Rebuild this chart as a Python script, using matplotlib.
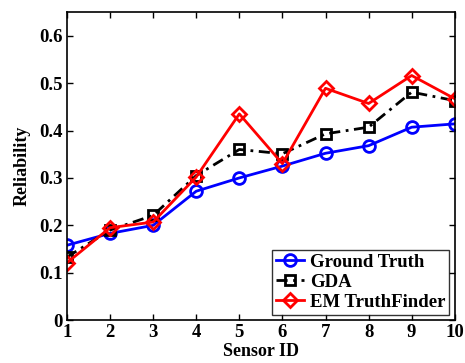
import matplotlib
matplotlib.use("Agg")
import matplotlib.pyplot as plt

sensor_ids = [1, 2, 3, 4, 5, 6, 7, 8, 9, 10]
ground_truth = [0.158, 0.183, 0.200, 0.272, 0.300, 0.325, 0.352, 0.368, 0.407, 0.414]
gda = [0.133, 0.190, 0.221, 0.305, 0.360, 0.351, 0.393, 0.407, 0.481, 0.463]
em_truthfinder = [0.121, 0.195, 0.207, 0.302, 0.435, 0.330, 0.489, 0.457, 0.516, 0.467]
y_ticks = [0, 0.1, 0.2, 0.3, 0.4, 0.5, 0.6]
y_tick_labels = ["0", "0.1", "0.2", "0.3", "0.4", "0.5", "0.6"]

plt.rcParams['font.family'] = ['Liberation Serif', 'DejaVu Serif']
plt.rcParams['font.weight'] = 'bold'

fig = plt.figure(figsize=(4.65, 3.63), dpi=100)
ax = fig.add_axes([0.144, 0.118, 0.834, 0.849])

ax.plot(sensor_ids, ground_truth, color='#0000ff', lw=2, marker='o', ms=8.5,
        mfc='none', mew=2, label='Ground Truth')
ax.plot(sensor_ids, gda, color='black', lw=2, dashes=(4, 2, 1, 2), marker='s', ms=7,
        mfc='none', mew=2, label='GDA')
ax.plot(sensor_ids, em_truthfinder, color='#ff0000', lw=2, marker='D', ms=7.5,
        mfc='none', mew=2, label='EM TruthFinder')

ax.set_xlim(1, 10)
ax.set_ylim(0, 0.65)
ax.set_xticks(sensor_ids)
ax.set_xticklabels([str(s) for s in sensor_ids])
ax.set_yticks(y_ticks)
ax.set_yticklabels(y_tick_labels)
ax.tick_params(direction='in', top=True, right=True, labelsize=13.5, width=1, length=4, pad=3)
for s in ax.spines.values():
    s.set_linewidth(1.2)
ax.set_xlabel('Sensor ID', fontsize=13, fontweight='bold', labelpad=1)
ax.set_ylabel('Reliability', fontsize=13, fontweight='bold', labelpad=6)

leg = ax.legend(loc='lower right', fontsize=13.5, frameon=True, fancybox=False,
                edgecolor='black', borderaxespad=0.3, handlelength=1.5,
                handletextpad=0.3, borderpad=0.2, labelspacing=0.15)
leg.get_frame().set_linewidth(1.0)

fig.savefig('out.png', dpi=100)
